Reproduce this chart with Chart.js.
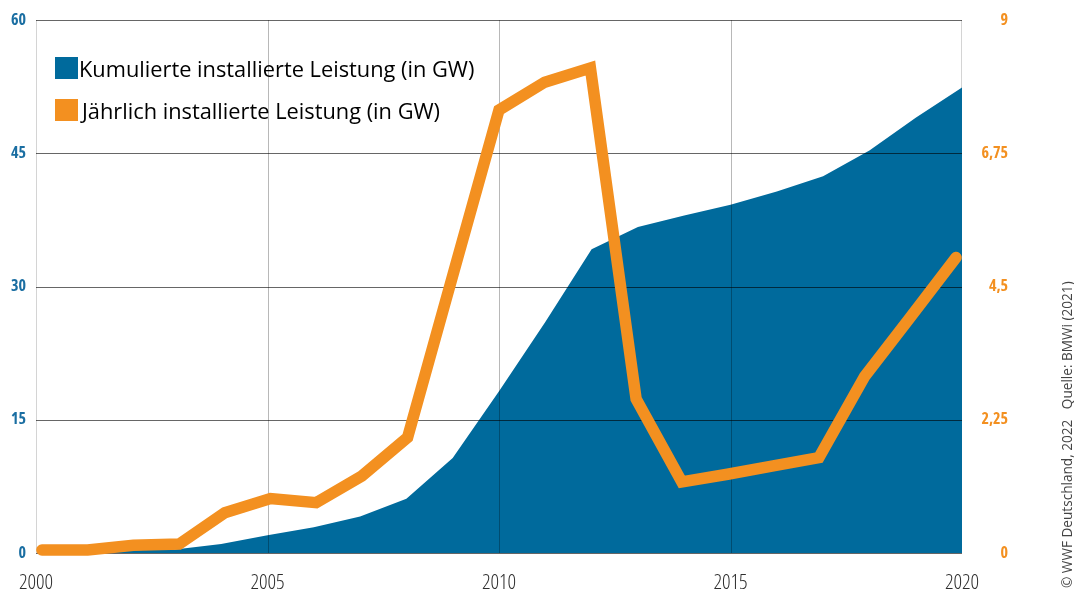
<!DOCTYPE html>
<html><head><meta charset="utf-8">
<script src="https://cdn.jsdelivr.net/npm/chart.js@4"></script>
<style>html,body{margin:0;padding:0;background:#fff;overflow:hidden}#wrap{width:1074px;height:589px;position:relative}</style>
</head><body><div id="wrap"><canvas id="c" width="1074" height="589"></canvas></div>
<script>
const years = [2000,2001,2002,2003,2004,2005,2006,2007,2008,2009,2010,2011,2012,2013,2014,2015,2016,2017,2018,2019,2020];
const cumulative = [0,0.1,0.3,0.4,1.0,2.0,2.9,4.1,6.1,10.7,18.2,26.0,34.2,36.7,38.0,39.2,40.7,42.4,45.3,49.0,52.4];
const annual = [0.05,0.05,0.13,0.15,0.68,0.92,0.85,1.3,1.95,4.72,7.48,7.95,8.19,2.6,1.2,1.33,1.47,1.61,2.98,3.98,4.99];
const leftTicks = [0,15,30,45,60];
const rightTicks = [0,2.25,4.5,6.75,9];
const xTickYears = [2000,2005,2010,2015,2020];
const seriesLabels = ['Kumulierte installierte Leistung (in GW)','Jährlich installierte Leistung (in GW)'];
const creditText = '© WWF Deutschland, 2022   Quelle: BMWi (2021)';

const BLUE = '#006a9c';
const ORANGE = '#f39020';

// pick a condensed font that is actually installed
const mctx = document.createElement('canvas').getContext('2d');
function mw(font) { mctx.font = '10px monospace'; mctx.font = font; return mctx.measureText('2000 Kumulierte 6,75 abcxyz').width; }
function pickNarrow() {
  for (const f of ['Open Sans', 'Noto Sans']) {
    const base = mw('40px "' + f + '"');
    const cond = mw('condensed 40px "' + f + '"');
    if (cond < base - 2) return {family: '"' + f + '"', stretch: ' condensed', scale: 1};
  }
  for (const f of ['Liberation Sans Narrow', 'DejaVu Sans Condensed', 'Roboto Condensed']) {
    if (mw('40px "' + f + '", monospace') !== mw('40px monospace') &&
        mw('40px "' + f + '", serif') !== mw('40px serif')) return {family: '"' + f + '"', stretch: '', scale: 1};
  }
  return {family: 'Roboto', stretch: '', scale: 0.88};
}
const NF = pickNarrow();

const gridPlugin = {
  id: 'gridOver',
  beforeDatasetsDraw(chart) {
    const {ctx, chartArea: a} = chart;
    ctx.save();
    ctx.strokeStyle = '#d4d4d4';
    ctx.lineWidth = 1;
    ctx.beginPath();
    ctx.moveTo(a.left + 0.5, a.top); ctx.lineTo(a.left + 0.5, a.bottom);
    ctx.moveTo(a.right - 0.5, a.top); ctx.lineTo(a.right - 0.5, a.bottom);
    ctx.stroke();
    ctx.restore();
  },
  afterDatasetDraw(chart, args) {
    if (args.index !== 0) return;
    const {ctx, chartArea: a, scales} = chart;
    ctx.save();
    ctx.lineWidth = 1;
    ctx.strokeStyle = 'rgba(0,0,0,0.28)';
    ctx.beginPath();
    xTickYears.slice(1, -1).forEach(yr => {
      const px = Math.round(scales.x.getPixelForValue(years.indexOf(yr))) + 0.5;
      ctx.moveTo(px, a.top); ctx.lineTo(px, a.bottom);
    });
    ctx.stroke();
    ctx.strokeStyle = 'rgba(0,0,0,0.6)';
    ctx.beginPath();
    leftTicks.forEach(v => {
      const py = Math.round(scales.y.getPixelForValue(v)) + 0.5;
      ctx.moveTo(a.left, py); ctx.lineTo(a.right, py);
    });
    ctx.stroke();
    ctx.restore();
  }
};

const legendPlugin = {
  id: 'innerLegend',
  afterDraw(chart) {
    const {ctx} = chart;
    const items = [
      {sq: [55, 57], tx: [79, 77]},
      {sq: [55, 99], tx: [82, 119]}
    ];
    ctx.save();
    ctx.font = '21.8px "Open Sans", sans-serif';
    ctx.textBaseline = 'alphabetic';
    ctx.textAlign = 'left';
    chart.data.datasets.forEach((ds, i) => {
      const it = items[i];
      ctx.fillStyle = ds.legendColor;
      ctx.fillRect(it.sq[0], it.sq[1], 23, 22);
      ctx.fillStyle = '#000';
      ctx.fillText(ds.label, it.tx[0], it.tx[1]);
    });
    ctx.restore();
  }
};

const creditPlugin = {
  id: 'credit',
  afterDraw(chart) {
    const {ctx} = chart;
    ctx.save();
    ctx.translate(1072, 588);
    ctx.rotate(-Math.PI / 2);
    ctx.font = '13.6px "Open Sans", sans-serif';
    ctx.fillStyle = '#444';
    ctx.textAlign = 'left';
    ctx.textBaseline = 'alphabetic';
    ctx.fillText(creditText, 0, 0);
    ctx.restore();
  }
};

new Chart(document.getElementById('c'), {
  type: 'line',
  data: {
    labels: years.map(String),
    datasets: [
      {
        label: seriesLabels[0],
        data: cumulative,
        xAxisID: 'x', yAxisID: 'y',
        backgroundColor: BLUE,
        legendColor: BLUE,
        borderWidth: 0,
        borderColor: BLUE,
        fill: 'origin',
        pointRadius: 0,
        tension: 0,
        order: 2
      },
      {
        label: seriesLabels[1],
        data: years.map((y, i) => ({x: y, y: annual[i]})),
        xAxisID: 'x2', yAxisID: 'y2',
        borderColor: ORANGE,
        legendColor: ORANGE,
        borderWidth: 11.5,
        borderCapStyle: 'round',
        borderJoinStyle: 'miter',
        fill: false,
        pointRadius: 0,
        tension: 0,
        clip: false,
        order: 1
      }
    ]
  },
  options: {
    responsive: false,
    devicePixelRatio: 1,
    animation: false,
    events: [],
    layout: {padding: {top: 20, right: 66, bottom: 0, left: 0}},
    plugins: {legend: {display: false}, tooltip: {enabled: false}},
    scales: {
      x: {
        type: 'category',
        grid: {display: false, drawTicks: false},
        border: {display: false},
        ticks: {
          autoSkip: false, maxRotation: 0, minRotation: 0,
          padding: 17,
          color: '#2e2e2e',
          font: {family: NF.family, size: Math.round(21 * NF.scale), weight: '300' + NF.stretch},
          callback: (v, i) => xTickYears.includes(years[i]) ? String(years[i]) : ''
        },
        afterFit: s => { s.height = 36; }
      },
      x2: {
        type: 'linear', display: false,
        min: years[0] - 0.13, max: years[years.length - 1] + 0.13
      },
      y: {
        position: 'left', min: 0, max: 60,
        grid: {display: false, drawTicks: false},
        border: {display: false},
        afterBuildTicks: s => { s.ticks = leftTicks.map(v => ({value: v})); },
        ticks: {
          padding: 10, color: '#1a6ea2',
          font: {family: NF.family, size: Math.round(16 * NF.scale), weight: 'bold' + NF.stretch}
        },
        afterFit: s => { s.width = 36; }
      },
      y2: {
        position: 'right', min: 0, max: 9,
        grid: {display: false, drawTicks: false},
        border: {display: false},
        afterBuildTicks: s => { s.ticks = rightTicks.map(v => ({value: v})); },
        ticks: {
          crossAlign: 'far', color: ORANGE,
          font: {family: NF.family, size: Math.round(16 * NF.scale), weight: 'bold' + NF.stretch},
          callback: v => String(v).replace('.', ',')
        },
        afterFit: s => { s.width = 46; }
      }
    }
  },
  plugins: [gridPlugin, legendPlugin, creditPlugin]
});
</script>
</body></html>
